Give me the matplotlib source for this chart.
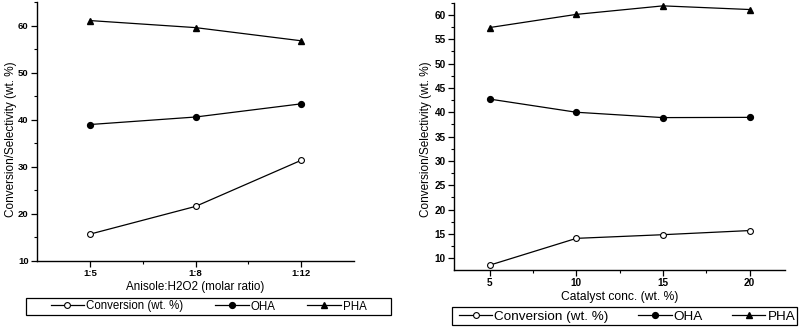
import matplotlib
matplotlib.use("Agg")
import matplotlib.pyplot as plt
from matplotlib.ticker import MultipleLocator, FixedLocator
from matplotlib.patches import Rectangle

plt.rcParams['font.family'] = ['Liberation Sans', 'DejaVu Sans']

# Left panel data
ratio_labels = ["1:5", "1:8", "1:12"]
conv_ratio = [15.7, 21.6, 31.4]
oha_ratio = [39.0, 40.6, 43.4]
pha_ratio = [61.1, 59.6, 56.8]

# Right panel data
cat_conc = [5, 10, 15, 20]
conv_cat = [8.6, 14.1, 14.85, 15.7]
oha_cat = [42.7, 40.0, 38.9, 38.95]
pha_cat = [57.4, 60.1, 61.85, 61.1]

series_names = ["Conversion (wt. %)", "OHA", "PHA"]

# Tick labels
left_yticks = [10, 20, 30, 40, 50, 60]
right_yticks = [10, 15, 20, 25, 30, 35, 40, 45, 50, 55, 60]

W, H = 799, 327
fig = plt.figure(figsize=(W / 100, H / 100), dpi=100)

def px_axes(x0, x1, ytop, ybot):
    return fig.add_axes([x0 / W, 1 - ybot / H, (x1 - x0) / W, (ybot - ytop) / H])

axL = px_axes(37, 354, 2.2, 261)
axR = px_axes(454.3, 785, 2.7, 270)

ms = 4.2
lw = 0.9

def draw(ax, x, conv, oha, pha):
    h1, = ax.plot(x, conv, '-o', color='black', mfc='white', mec='black', ms=ms, lw=lw, mew=0.8)
    h2, = ax.plot(x, oha, '-o', color='black', mfc='black', mec='black', ms=ms, lw=lw)
    h3, = ax.plot(x, pha, '-^', color='black', mfc='black', mec='black', ms=ms + 0.6, lw=lw)
    return [h1, h2, h3]

xl = list(range(len(ratio_labels)))
handlesL = draw(axL, xl, conv_ratio, oha_ratio, pha_ratio)
handlesR = draw(axR, cat_conc, conv_cat, oha_cat, pha_cat)

def style(ax):
    ax.spines['top'].set_visible(False)
    ax.spines['right'].set_visible(False)
    ax.spines['left'].set_linewidth(1.0)
    ax.spines['bottom'].set_linewidth(1.0)
    ax.tick_params(which='major', direction='out', length=4, width=0.9, pad=2)
    ax.tick_params(which='minor', direction='out', length=2.2, width=0.8)
    ax.set_ylabel("Conversion/Selectivity (wt. %)", fontsize=8.5)

# Left axes
style(axL)
axL.set_xlim(-0.5, 2.5)
axL.set_ylim(10, 65)
axL.set_xticks(xl, ratio_labels, fontweight='bold', fontsize=6.8)
axL.set_yticks(left_yticks, [str(v) for v in left_yticks], fontweight='bold', fontsize=6.8)
axL.xaxis.set_minor_locator(FixedLocator([0.5, 1.5]))
axL.yaxis.set_minor_locator(MultipleLocator(5))
axL.set_xlabel("Anisole:H2O2 (molar ratio)", fontsize=8.4, labelpad=2)
axL.yaxis.set_label_coords(-0.062, 0.47)

# Right axes
style(axR)
axR.set_xlim(2.95, 22.05)
axR.set_ylim(7.6, 62.5)
axR.set_xticks(cat_conc, [str(v) for v in cat_conc], fontweight='bold', fontsize=7.2)
axR.set_yticks(right_yticks, [str(v) for v in right_yticks], fontweight='bold', fontsize=7.2)
axR.xaxis.set_minor_locator(FixedLocator([7.5, 12.5, 17.5]))
axR.yaxis.set_minor_locator(MultipleLocator(2.5))
axR.set_xlabel("Catalyst conc. (wt. %)", fontsize=8.7, labelpad=2)
axR.yaxis.set_label_coords(-0.066, 0.49)

def px_legend(handles, box, center, fs, hl, cs):
    x0, x1, ytop, ybot = box
    fig.add_artist(Rectangle((x0 / W, 1 - ybot / H), (x1 - x0) / W, (ybot - ytop) / H,
                             transform=fig.transFigure, fill=False, ec='black', lw=0.9))
    cx, cy = center
    fig.legend(handles, series_names, loc='center', bbox_to_anchor=(cx / W, 1 - cy / H),
               ncol=3, fontsize=fs, frameon=False, borderpad=0, borderaxespad=0,
               handlelength=hl, handletextpad=0.15, columnspacing=cs)

px_legend(handlesL, (25.7, 390.7, 297.7, 314.7), (208.5, 306.5), 8.3, 2.9, 2.8)
px_legend(handlesR, (452, 797, 307, 325), (627, 316.5), 9.7, 2.5, 2.15)

fig.savefig("out.png", dpi=100)
